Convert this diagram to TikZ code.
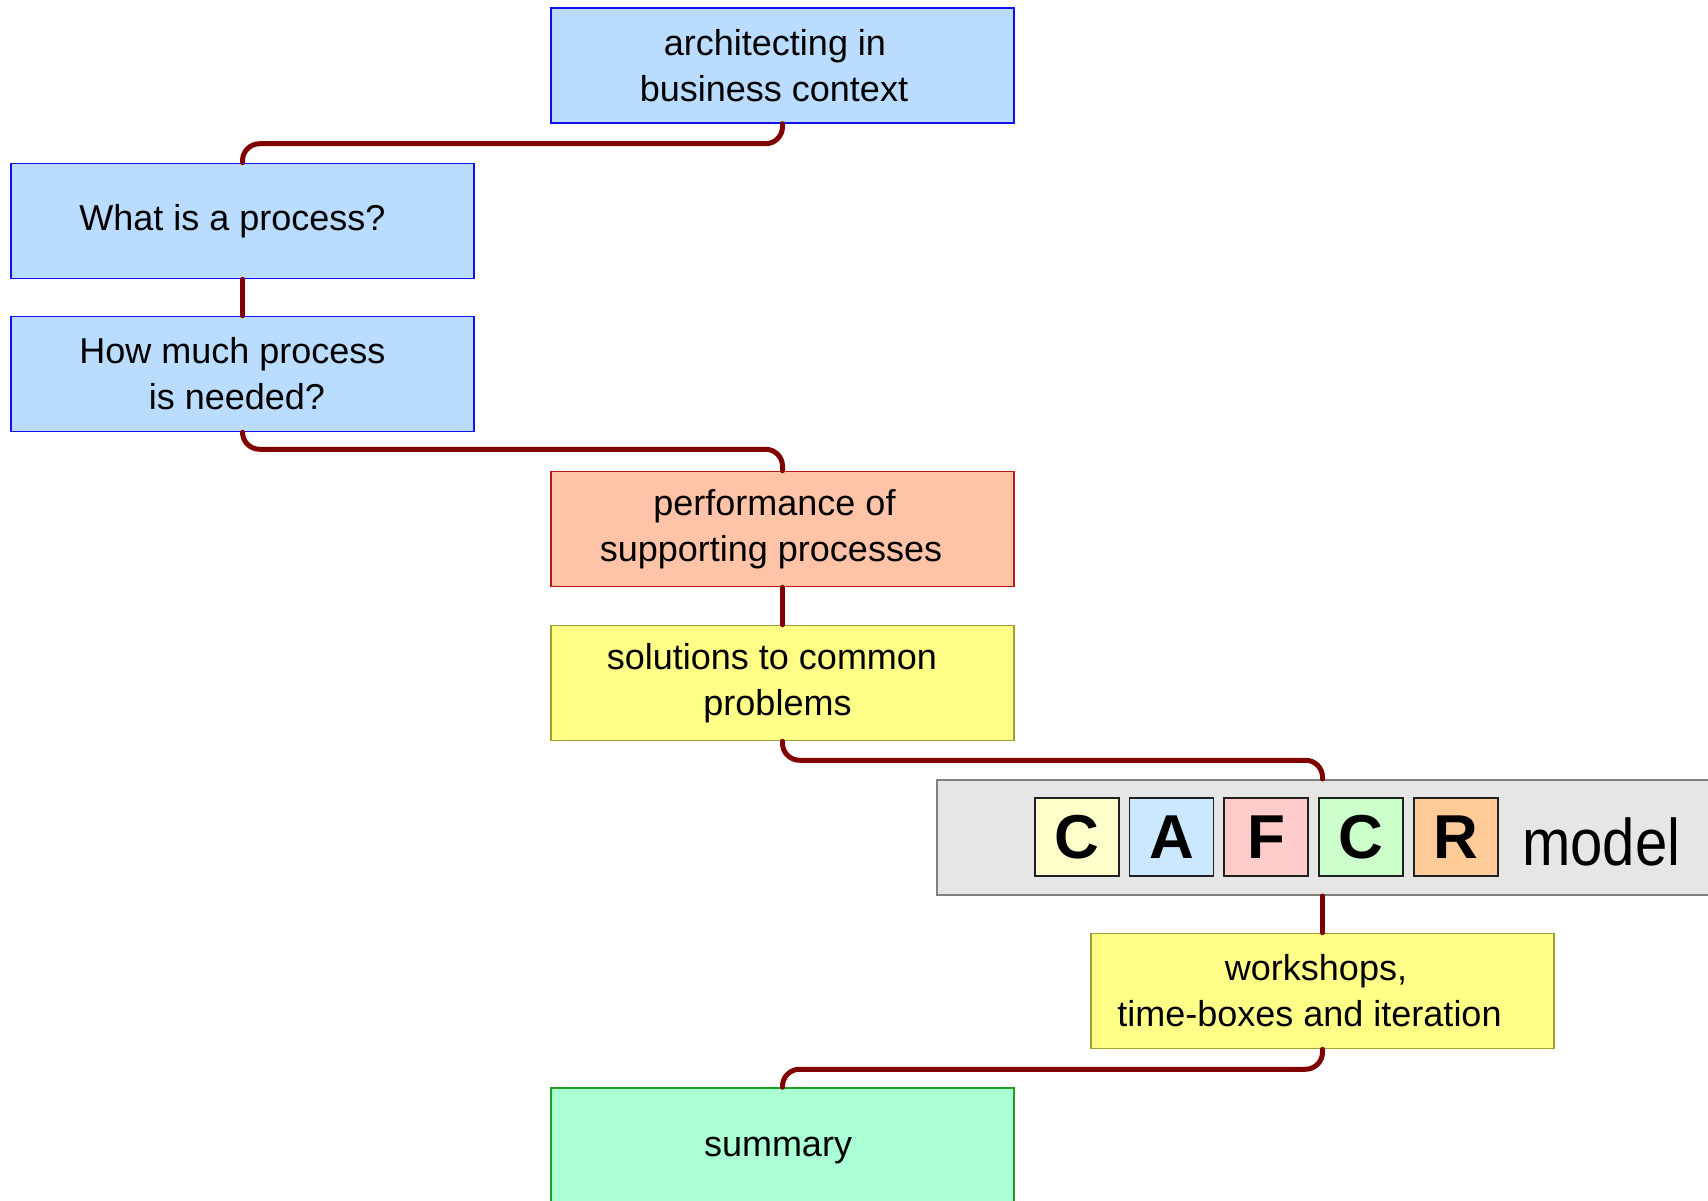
\documentclass[tikz,border=0pt]{standalone}
\usepackage{fontspec}
\setmainfont{Liberation Sans}
\definecolor{boxblue}{HTML}{B9DCFF}
\definecolor{boxblueline}{HTML}{1010F0}
\definecolor{boxsalmon}{HTML}{FFC4A8}
\definecolor{boxsalmonline}{HTML}{B81818}
\definecolor{boxyellow}{HTML}{FFFF88}
\definecolor{boxyellowline}{HTML}{A0A030}
\definecolor{boxgreen}{HTML}{AAFFD4}
\definecolor{boxgreenline}{HTML}{20A020}
\definecolor{modelfill}{HTML}{E6E6E6}
\definecolor{modelline}{HTML}{808080}
\definecolor{connred}{HTML}{800000}
\definecolor{letterline}{HTML}{202020}
\definecolor{lcust}{HTML}{FFFFCC}
\definecolor{lapp}{HTML}{CCE8FF}
\definecolor{lfun}{HTML}{FFCCCC}
\definecolor{lcon}{HTML}{CCFFCC}
\definecolor{lreal}{HTML}{FFCC99}
% trailing space that nudges a centred line a little to the left
\newcommand\lsh[1]{\hspace*{#1pt}}
\begin{document}
\begin{tikzpicture}[x=1pt,y=-1pt,
  box/.style={draw, line width=1.5pt, minimum width=463pt, minimum height=115pt,
    inner sep=0pt, align=center, font=\fontsize{36}{46}\selectfont},
  bluebox/.style={box, draw=boxblueline, fill=boxblue},
  salmonbox/.style={box, draw=boxsalmonline, fill=boxsalmon},
  yellowbox/.style={box, draw=boxyellowline, fill=boxyellow},
  greenbox/.style={box, draw=boxgreenline, fill=boxgreen},
  conn/.style={draw=connred, line width=5pt, rounded corners=17pt, line cap=round},
  letter/.style={draw=letterline, line width=1.5pt, minimum width=84pt,
    minimum height=78pt, inner sep=0pt, font=\fontsize{62}{62}\selectfont\bfseries}
]
\useasboundingbox (0,0) rectangle (1708,1201);

% topic boxes
\node[bluebox] (ctx) at (782.5,65.5) {architecting in\lsh{15}\\business context\lsh{17}};
\node[bluebox] (what) at (242.5,221) {What is a process?\lsh{20}};
\node[bluebox] (much) at (242.5,374) {How much process\lsh{20}\\is needed?\lsh{11}};
\node[salmonbox] (perf) at (782.5,529) {performance of\lsh{16}\\supporting processes\lsh{23}};
\node[yellowbox] (sol) at (782.5,683) {solutions to common\lsh{21}\\problems\lsh{10}};
\node[draw=modelline, fill=modelfill, line width=2pt, minimum width=783pt,
  minimum height=115pt, inner sep=0pt] (cafcr) at (1328.5,837.5) {};
\node[yellowbox] (work) at (1322.5,991) {workshops,\lsh{13}\\time-boxes and iteration\lsh{26}};
\node[greenbox, minimum height=126pt] (sum) at (782.5,1151) {summary\lsh{9}};

% CAFCR letters
\node[letter, fill=lcust] (lc1) at (1077,837) {C};
\node[letter, fill=lapp]  (la)  at (1171.5,837) {A};
\node[letter, fill=lfun]  (lf)  at (1266,837) {F};
\node[letter, fill=lcon]  (lc2) at (1361,837) {C};
\node[letter, fill=lreal] (lr)  at (1456,837) {R};
\node[anchor=base west, inner sep=0pt, font=\fontsize{66}{66}\selectfont]
  (mdl) at (1522,865) {\scalebox{0.88}[1]{model}};

% connectors
\draw[conn] (ctx.south) -- ++(0,20) -| (what.north);
\draw[conn] (what.south) -- (much.north);
\draw[conn] (much.south) -- ++(0,17) -| (perf.north);
\draw[conn] (perf.south) -- (sol.north);
\draw[conn] (sol.south) -- ++(0,19) -| (work.north |- cafcr.north);
\draw[conn] (work.north |- cafcr.south) -- (work.north);
\draw[conn] (work.south) -- ++(0,20) -| (sum.north);
\end{tikzpicture}
\end{document}
